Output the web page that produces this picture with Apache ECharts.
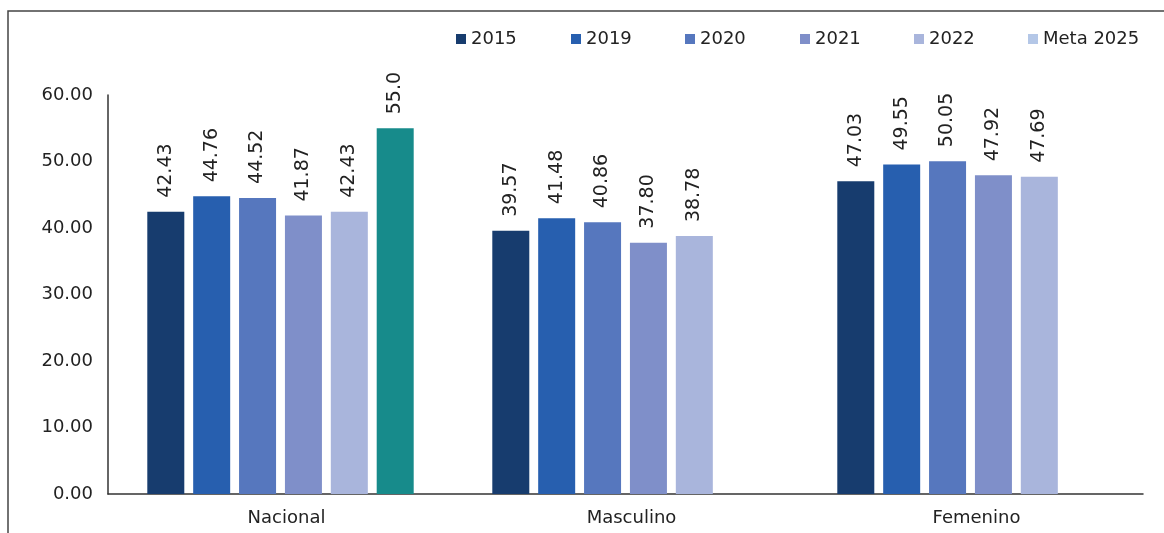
<!DOCTYPE html>
<html>
<head>
<meta charset="utf-8">
<script src="https://cdn.jsdelivr.net/npm/echarts@6/dist/echarts.min.js"></script>
<style>html,body{margin:0;padding:0;background:#fff;}#c{width:1164px;height:533px;}</style>
</head>
<body>
<div id="c"></div>
<script>
const categories = ['Nacional', 'Masculino', 'Femenino'];
const seriesNames = ['2015', '2019', '2020', '2021', '2022', 'Meta 2025'];
const v2015 = [42.43, 39.57, 47.03];
const v2019 = [44.76, 41.48, 49.55];
const v2020 = [44.52, 40.86, 50.05];
const v2021 = [41.87, 37.80, 47.92];
const v2022 = [42.43, 38.78, 47.69];
const vMeta = [55.0, null, null];
const yTicks = [0, 10, 20, 30, 40, 50, 60];

const colors = ['#173C6E', '#275FAF', '#5677BE', '#7F8FC9', '#A9B5DC', '#B4C7E7'];
const metaBarColor = '#178B8B';
const FONT = 'DejaVu Sans';
const TXT = '#222';
const values = [v2015, v2019, v2020, v2021, v2022, vMeta];
const legendLeft = [451, 566, 680, 795, 909, 1023];

const series = values.map((arr, i) => ({
  name: seriesNames[i],
  type: 'bar',
  barWidth: 37,
  barGap: '24%',
  itemStyle: { color: colors[i] },
  data: arr.map(v => v === null ? '-' : (i === 5 ? { value: v, itemStyle: { color: metaBarColor } } : v)),
  label: {
    show: true,
    position: 'top',
    rotate: 90,
    align: 'left',
    verticalAlign: 'middle',
    distance: 14,
    fontFamily: FONT,
    fontSize: 19,
    color: TXT,
    formatter: p => i === 5 ? Number(p.value).toFixed(1) : Number(p.value).toFixed(2)
  }
}));

const legends = seriesNames.map((n, i) => ({
  left: legendLeft[i], top: 25,
  itemWidth: 10, itemHeight: 10,
  icon: 'rect',
  textStyle: { fontFamily: FONT, fontSize: 18, color: TXT },
  data: [n]
}));

const chart = echarts.init(document.getElementById('c'));
chart.setOption({
  animation: false,
  backgroundColor: '#fff',
  graphic: [{
    type: 'rect', shape: { x: 8, y: 11, width: 1200, height: 600 },
    style: { fill: 'none', stroke: '#444', lineWidth: 1.5 }, silent: true
  }],
  legend: legends,
  grid: { left: 108, right: 21, top: 95, bottom: 39 },
  xAxis: {
    type: 'category',
    data: categories,
    axisLine: { lineStyle: { color: '#333', width: 1.5 } },
    axisTick: { show: false },
    axisLabel: { fontFamily: FONT, fontSize: 18, color: TXT, margin: 15, padding: [0, 0, 0, 12] }
  },
  yAxis: {
    type: 'value',
    min: yTicks[0], max: yTicks[yTicks.length - 1], interval: 10,
    axisLine: { show: true, lineStyle: { color: '#333', width: 1.5 } },
    axisTick: { show: false },
    splitLine: { show: false },
    axisLabel: { fontFamily: FONT, fontSize: 18, color: TXT, margin: 15, formatter: v => v.toFixed(2) }
  },
  series: series
});
</script>
</body>
</html>
